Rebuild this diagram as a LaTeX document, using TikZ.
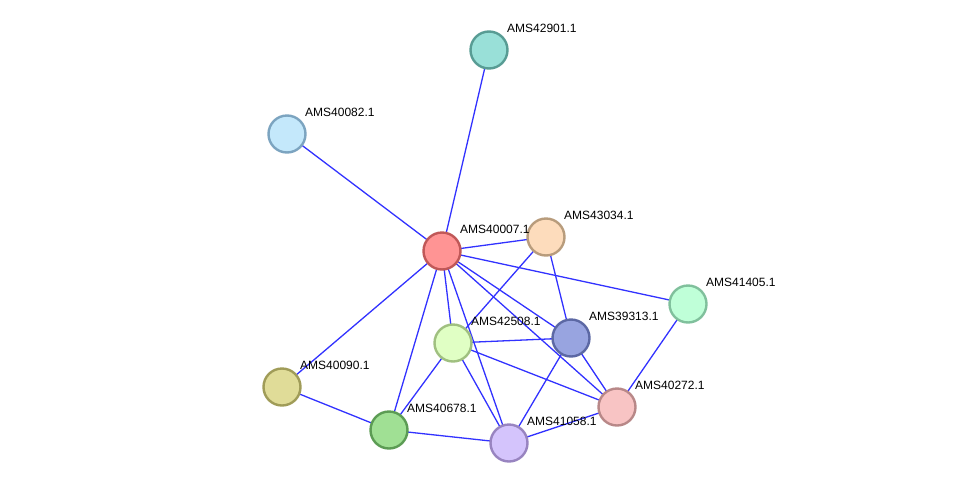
\documentclass[tikz,border=0pt]{standalone}
\usepackage{fontspec}
\setmainfont{Liberation Sans}
\usetikzlibrary{backgrounds}
\begin{document}
\begin{tikzpicture}[x=1pt,y=-1pt,
  prot/.style={circle,minimum size=37pt,inner sep=0pt,line width=2.4pt},
  lbl/.style={anchor=base west,font=\fontsize{12}{14}\selectfont,inner sep=0pt},
  edge/.style={draw={rgb,255:red,50;green,50;blue,255},line width=1.3pt}]
\useasboundingbox (0,0) rectangle (975,488);
\node[prot,fill={rgb,255:red,153;green,224;blue,216},draw={rgb,255:red,88;green,156;blue,148}] (n42901) at (489,50) {};
\node[prot,fill={rgb,255:red,196;green,232;blue,251},draw={rgb,255:red,124;green,164;blue,192}] (n40082) at (287,134) {};
\node[prot,fill={rgb,255:red,255;green,148;blue,148},draw={rgb,255:red,192;green,88;blue,88}] (n40007) at (442,251) {};
\node[prot,fill={rgb,255:red,253;green,220;blue,188},draw={rgb,255:red,184;green,156;blue,124}] (n43034) at (546,237) {};
\node[prot,fill={rgb,255:red,191;green,255;blue,216},draw={rgb,255:red,128;green,192;blue,156}] (n41405) at (688,304) {};
\node[prot,fill={rgb,255:red,224;green,255;blue,196},draw={rgb,255:red,160;green,192;blue,128}] (n42508) at (453,343) {};
\node[prot,fill={rgb,255:red,152;green,164;blue,224},draw={rgb,255:red,92;green,104;blue,164}] (n39313) at (571,338) {};
\node[prot,fill={rgb,255:red,224;green,220;blue,152},draw={rgb,255:red,160;green,156;blue,88}] (n40090) at (282,387) {};
\node[prot,fill={rgb,255:red,248;green,196;blue,196},draw={rgb,255:red,184;green,136;blue,136}] (n40272) at (617,407) {};
\node[prot,fill={rgb,255:red,160;green,224;blue,148},draw={rgb,255:red,92;green,156;blue,84}] (n40678) at (389,430) {};
\node[prot,fill={rgb,255:red,212;green,196;blue,252},draw={rgb,255:red,152;green,132;blue,192}] (n41058) at (509,443) {};
\begin{scope}[on background layer]
\foreach \a/\b in {40007/42901,40007/40082,40007/43034,40007/41405,40007/39313,40007/40272,40007/41058,40007/40678,40007/40090,40007/42508,
  43034/42508,43034/39313,42508/39313,42508/40272,42508/41058,42508/40678,39313/40272,39313/41058,41405/40272,40090/40678,40678/41058,41058/40272}
  \draw[edge] (n\a.center) -- (n\b.center);
\end{scope}
\foreach \n/\x/\y in {42901/489/50,40082/287/134,40007/442/251,43034/546/237,41405/688/304,42508/453/343,39313/571/338,40090/282/387,40272/617/407,40678/389/430,41058/509/443}
  \node[lbl] (l\n) at (\x+18,\y-18) {AMS\n.1};
\end{tikzpicture}
\end{document}
